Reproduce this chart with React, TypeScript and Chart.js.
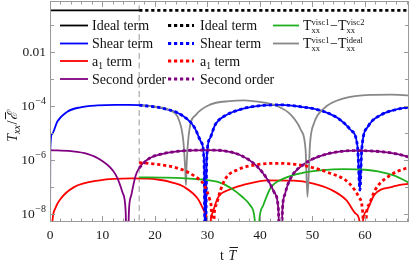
import React, { useEffect, useRef } from "react";
import { Chart, registerables } from "chart.js";

Chart.register(...registerables);

const X_MIN = 0;
const X_MAX = 68.4;
const Y_MIN = 5e-9;
const Y_MAX = 0.74;
const SWITCH_T = 17;

const xTickLabels = [0, 10, 20, 30, 40, 50, 60];
const yTickExponents = [-8, -7, -6, -5, -4, -3, -2, -1];
const yLabelExponents = [-8, -6, -4, -2];

// Ideal term (solid up to the switch, dotted after)
const idealT = [0, 17];
const idealV = [0.3333, 0.3333];
const idealDotT = [17, 68.4];
const idealDotV = [0.3333, 0.3333];

// Shear term
const shearT = [0, 0.05, 0.4, 1.4, 3.3, 5.8, 9.0, 12.5, 15.0, 17.0, 21.6, 25.0, 27.5, 28.8, 29.35, 29.6, 29.85, 30.5, 31.5, 33.7, 37.0, 40.1, 44.0, 47.8, 51.6, 54.9, 57.3, 58.6, 59.05, 59.4, 60.6, 63.1, 65.6, 68.4];
const shearV = [1e-10, 2.3e-6, 9e-6, 2.6e-5, 6.0e-5, 8.7e-5, 1.02e-4, 1.07e-4, 1.07e-4, 1.05e-4, 7.9e-5, 4.6e-5, 1.6e-5, 4.5e-6, 1.0e-6, 1e-10, 1.0e-6, 6.3e-6, 2.0e-5, 4.6e-5, 7.9e-5, 1.0e-4, 1.07e-4, 9.1e-5, 6.6e-5, 3.4e-5, 1.26e-5, 3.0e-6, 7.6e-8, 2.5e-6, 1.7e-5, 4.6e-5, 6.9e-5, 8.9e-5];

// a1 term (solid)
const a1T = [0, 0.5, 1.0, 2.0, 4.5, 9.5, 15.5, 20.5, 23.5, 25.5, 28.2, 29.5, 30.0, 30.3, 30.6, 31.0, 32.0, 34.0, 37.0, 41.5, 46.5, 50.0, 53.5, 56.5, 58.3, 59.0, 59.3, 59.6, 60.3, 61.8, 65.2, 68.4];
const a1V = [1e-10, 6.31e-9, 1.58e-8, 3.55e-8, 9.55e-8, 1.74e-7, 2.04e-7, 1.86e-7, 1.41e-7, 1.0e-7, 3.55e-8, 1.12e-8, 5.01e-9, 1e-10, 5.01e-9, 1.12e-8, 3.98e-8, 7.59e-8, 1.2e-7, 1.74e-7, 1.7e-7, 1.35e-7, 7.94e-8, 3.16e-8, 1.0e-8, 5.01e-9, 1e-10, 5.01e-9, 1.26e-8, 5.01e-8, 1.0e-7, 1.32e-7];

// a1 term (dotted)
const a1DotT = [17, 20.5, 24.6, 27.5, 29.4, 30.4, 30.8, 31.0, 31.3, 31.7, 32.5, 33.5, 36.0, 39.5, 43.6, 48.7, 53.1, 56.9, 58.9, 59.6, 59.9, 60.3, 60.8, 62.0, 64.6, 67.8, 68.4];
const a1DotV = [7.76e-7, 6.76e-7, 4.68e-7, 2.51e-7, 1.12e-7, 3.55e-8, 1.0e-8, 1e-10, 1.0e-8, 2.24e-8, 7.59e-8, 2.09e-7, 4.47e-7, 6.61e-7, 7.41e-7, 5.89e-7, 3.31e-7, 1.41e-7, 3.98e-8, 1.0e-8, 1e-10, 1.0e-8, 2.24e-8, 7.94e-8, 2.51e-7, 4.79e-7, 5.01e-7];

// Second order
const secondT = [0, 4, 7.1, 9.6, 12.5, 13.8, 14.4, 14.72, 15.05, 15.5, 16.3, 17.0, 18.9, 21.7, 26, 30, 33.5, 36.5, 39.5, 41.5, 42.7, 43.5, 43.9, 44.3, 44.8, 45.8, 48.5, 52.5, 58, 63, 66, 68.4];
const secondV = [2.29e-6, 2.09e-6, 1.66e-6, 1.0e-6, 2.82e-7, 6.31e-8, 1.41e-8, 1e-10, 1.41e-8, 5.01e-8, 2.51e-7, 5.01e-7, 1.12e-6, 1.7e-6, 2.19e-6, 2.29e-6, 2.09e-6, 1.41e-6, 5.62e-7, 1.78e-7, 6.31e-8, 1.58e-8, 1e-10, 1.58e-8, 5.62e-8, 2.0e-7, 7.08e-7, 1.58e-6, 2.19e-6, 2.0e-6, 1.66e-6, 1.26e-6];

// T_xx^visc1 - T_xx^visc2
const viscDiffT = [17, 22, 26, 29, 32, 34.5, 36.5, 38.2, 39.0, 39.45, 39.9, 40.6, 42.0, 44.5, 48.8, 52, 56, 60, 62.5, 65.5, 67.5, 68.4];
const viscDiffV = [2.24e-7, 2.19e-7, 2.04e-7, 1.86e-7, 1.51e-7, 8.91e-8, 4.47e-8, 2.0e-8, 6.31e-9, 1e-10, 6.31e-9, 2.0e-8, 8.91e-8, 2.0e-7, 3.47e-7, 4.17e-7, 4.47e-7, 4.27e-7, 3.72e-7, 2.63e-7, 1.74e-7, 1.41e-7];

// T_xx^visc1 - T_xx^ideal
const idealDiffT = [17, 20, 22.7, 24.6, 25.4, 25.75, 25.9, 26.05, 26.6, 27.8, 30.4, 34.2, 37, 40, 42.7, 45.9, 47.8, 48.7, 49.05, 49.55, 50.3, 52.2, 56, 61.1, 65, 68.4];
const idealDiffV = [1.05e-4, 9.12e-5, 6.92e-5, 2.82e-5, 5.01e-6, 5.01e-7, 1.15e-7, 7.94e-7, 1.45e-5, 4.57e-5, 1.07e-4, 1.48e-4, 1.58e-4, 1.38e-4, 1.07e-4, 4.57e-5, 1.26e-5, 2.29e-6, 4.27e-8, 4.07e-6, 2.24e-5, 7.94e-5, 1.86e-4, 2.51e-4, 2.57e-4, 2.4e-4];

const switchLineT = [17, 17];
const switchLineV = [1e-10, 1];

const FONT = "'Liberation Serif', 'Times New Roman', serif";
const C_BLACK = "#000000";
const C_BLUE = "#0000ff";
const C_RED = "#ff0000";
const C_PURPLE = "#800080";
const C_GREEN = "#1fb01f";
const C_GRAY = "#888888";
const C_FRAME = "#9a9a9a";
const SOLID_W = 1.8;
const DOT_W = 2.8;
const DOT_DASH = [3.2, 2.8];

function zip(ts: number[], vs: number[], from = -Infinity) {
  const out: { x: number; y: number }[] = [];
  for (let i = 0; i < ts.length; i++) if (ts[i] >= from) out.push({ x: ts[i], y: vs[i] });
  return out;
}

function line(ctx: CanvasRenderingContext2D, x1: number, y1: number, x2: number, y2: number) {
  ctx.beginPath();
  ctx.moveTo(x1, y1);
  ctx.lineTo(x2, y2);
  ctx.stroke();
}

// Draws "T" with stacked sub "xx" and sup text; returns new x
function drawTxx(ctx: CanvasRenderingContext2D, x: number, base: number, sup: string) {
  ctx.font = `14px ${FONT}`;
  ctx.fillText("T", x, base);
  x += ctx.measureText("T").width - 0.5;
  ctx.font = `8.5px ${FONT}`;
  ctx.fillText(sup, x + 0.5, base - 5.5);
  const wSup = ctx.measureText(sup).width;
  ctx.fillText("xx", x + 0.5, base + 2.5);
  const wSub = ctx.measureText("xx").width;
  return x + Math.max(wSup, wSub) + 1;
}

const overlayPlugin = {
  id: "overlay",
  afterDraw(chart: any) {
    const { ctx, chartArea: a, scales } = chart;
    const xs = scales.x;
    const ys = scales.y;
    ctx.save();

    // frame
    ctx.strokeStyle = C_FRAME;
    ctx.lineWidth = 1;
    ctx.setLineDash([]);
    ctx.strokeRect(a.left + 0.5, a.top + 0.5, a.right - a.left - 1, a.bottom - a.top - 1);

    // x ticks (inward, bottom and top)
    for (let v = 0; v <= X_MAX; v += 2) {
      const px = Math.round(xs.getPixelForValue(v)) + 0.5;
      const len = v % 10 === 0 ? 6 : 3.5;
      line(ctx, px, a.bottom, px, a.bottom - len);
      line(ctx, px, a.top, px, a.top + len);
    }
    // y ticks (inward, left and right)
    for (const e of yTickExponents) {
      const py = Math.round(ys.getPixelForValue(Math.pow(10, e))) + 0.5;
      const len = e % 2 === 0 ? 5 : 4;
      line(ctx, a.left, py, a.left + len, py);
      line(ctx, a.right, py, a.right - len, py);
    }

    // x tick labels
    ctx.fillStyle = "#1a1a1a";
    ctx.font = `13.5px ${FONT}`;
    ctx.textAlign = "center";
    ctx.textBaseline = "alphabetic";
    for (const v of xTickLabels) {
      ctx.fillText(String(v), xs.getPixelForValue(v), 238.5);
    }

    // y tick labels
    ctx.textAlign = "left";
    for (const e of yLabelExponents) {
      const py = ys.getPixelForValue(Math.pow(10, e));
      const right = 46;
      if (e === -2) {
        ctx.font = `13.5px ${FONT}`;
        const w = ctx.measureText("0.01").width;
        ctx.fillText("0.01", right - w, py + 4.5);
      } else {
        const sup = "\u2212" + String(-e);
        ctx.font = `10px ${FONT}`;
        const ws = ctx.measureText(sup).width;
        ctx.font = `13.5px ${FONT}`;
        const wb = ctx.measureText("10").width;
        const x0 = right - ws - wb - 0.5;
        ctx.fillText("10", x0, py + 4.5);
        ctx.font = `10px ${FONT}`;
        ctx.fillText(sup, x0 + wb + 0.5, py - 1.5);
      }
    }

    // x axis title: t T̄
    ctx.font = `14px ${FONT}`;
    ctx.fillText("t", 220, 259.5);
    ctx.font = `italic 14px ${FONT}`;
    ctx.fillText("T", 228.5, 259.5);
    ctx.strokeStyle = "#1a1a1a";
    ctx.lineWidth = 1;
    line(ctx, 229.5, 247.5, 238, 247.5);

    // y axis title: T_xx / Ē (rotated)
    ctx.save();
    ctx.translate(17, 127);
    ctx.rotate(-Math.PI / 2);
    ctx.font = `italic 14px ${FONT}`;
    const wT = ctx.measureText("T").width;
    ctx.font = `italic 10px ${FONT}`;
    const wxx = ctx.measureText("xx").width;
    ctx.font = `14px ${FONT}`;
    const wSl = ctx.measureText("/").width;
    ctx.font = `italic 14px ${FONT}`;
    const wE = ctx.measureText("\u2130").width;
    let tx = -(wT + wxx + wSl + wE + 1) / 2;
    ctx.font = `italic 14px ${FONT}`;
    ctx.fillText("T", tx, 0);
    tx += wT;
    ctx.font = `italic 10px ${FONT}`;
    ctx.fillText("xx", tx, 3);
    tx += wxx + 0.5;
    ctx.font = `14px ${FONT}`;
    ctx.fillText("/", tx, 0);
    tx += wSl + 0.5;
    ctx.font = `italic 14px ${FONT}`;
    ctx.fillText("\u2130", tx, 0);
    line(ctx, tx + 1, -11.5, tx + wE, -11.5);
    ctx.restore();

    // legend
    const rows = [25.5, 43.5, 61, 79];
    const drawSample = (x1: number, x2: number, y: number, color: string, dotted: boolean) => {
      ctx.strokeStyle = color;
      ctx.lineWidth = dotted ? DOT_W : SOLID_W;
      ctx.setLineDash(dotted ? DOT_DASH : []);
      line(ctx, x1, y, x2, y);
      ctx.setLineDash([]);
    };
    const entries = [
      { label: "Ideal term", color: C_BLACK },
      { label: "Shear term", color: C_BLUE },
      { label: "a1 term", color: C_RED },
      { label: "Second order", color: C_PURPLE },
    ];
    ctx.fillStyle = "#111";
    const drawLabel = (x: number, base: number, label: string) => {
      ctx.font = `14px ${FONT}`;
      if (label === "a1 term") {
        ctx.fillText("a", x, base);
        const wa = ctx.measureText("a").width;
        ctx.font = `9.5px ${FONT}`;
        ctx.fillText("1", x + wa, base + 3);
        const w1 = ctx.measureText("1").width;
        ctx.font = `14px ${FONT}`;
        ctx.fillText(" term", x + wa + w1, base);
      } else {
        ctx.fillText(label, x, base);
      }
    };
    entries.forEach((en, i) => {
      const y = rows[i];
      drawSample(60, 88, y, en.color, false);
      drawLabel(92, y + 4.5, en.label);
      drawSample(168, 194, y, en.color, true);
      drawLabel(200, y + 4.5, en.label);
    });
    // third column
    drawSample(273, 299, rows[0], C_GREEN, false);
    drawSample(273, 299, rows[1], C_GRAY, false);
    ctx.fillStyle = "#111";
    for (let r = 0; r < 2; r++) {
      const base = rows[r] + 4.5;
      let x = drawTxx(ctx, 303, base, "visc1");
      ctx.font = `14px ${FONT}`;
      ctx.fillText("\u2212", x, base);
      x += ctx.measureText("\u2212").width;
      drawTxx(ctx, x, base, r === 0 ? "visc2" : "ideal");
    }

    ctx.restore();
  },
};

export default function App() {
  const ref = useRef<HTMLCanvasElement | null>(null);
  useEffect(() => {
    if (!ref.current) return;
    const solid = (data: any, color: string, order: number) => ({
      data,
      borderColor: color,
      backgroundColor: color,
      borderWidth: SOLID_W,
      pointRadius: 0,
      fill: false,
      cubicInterpolationMode: "monotone" as const,
      order,
    });
    const dotted = (data: any, color: string, order: number) => ({
      ...solid(data, color, order),
      borderWidth: DOT_W,
      borderDash: DOT_DASH,
      borderCapStyle: "butt" as const,
    });
    const chart = new Chart(ref.current, {
      type: "line",
      data: {
        datasets: [
          {
            data: zip(switchLineT, switchLineV),
            borderColor: "#b0b0b0",
            borderWidth: 1.3,
            borderDash: [6, 3.5],
            pointRadius: 0,
            tension: 0,
            order: 20,
          },
          solid(zip(idealT, idealV), C_BLACK, 9),
          solid(zip(shearT, shearV), C_BLUE, 8),
          solid(zip(a1T, a1V), C_RED, 7),
          solid(zip(secondT, secondV), C_PURPLE, 6),
          solid(zip(viscDiffT, viscDiffV), C_GREEN, 5),
          solid(zip(idealDiffT, idealDiffV), C_GRAY, 5.5),
          dotted(zip(idealDotT, idealDotV), C_BLACK, 4),
          dotted(zip(shearT, shearV, SWITCH_T), C_BLUE, 3),
          dotted(zip(a1DotT, a1DotV), C_RED, 2),
          dotted(zip(secondT, secondV, SWITCH_T), C_PURPLE, 1),
        ],
      },
      options: {
        animation: false,
        responsive: false,
        devicePixelRatio: 1,
        layout: { padding: { left: 0, right: 2, top: 1, bottom: 0 } },
        plugins: { legend: { display: false }, tooltip: { enabled: false } },
        elements: { point: { radius: 0 } },
        scales: {
          x: {
            type: "linear",
            min: X_MIN,
            max: X_MAX,
            grid: { display: false },
            border: { display: false },
            ticks: { display: false },
            afterFit: (s: any) => {
              s.height = 41;
            },
          },
          y: {
            type: "logarithmic",
            min: Y_MIN,
            max: Y_MAX,
            grid: { display: false },
            border: { display: false },
            ticks: { display: false },
            afterFit: (s: any) => {
              s.width = 50;
            },
          },
        },
      },
      plugins: [overlayPlugin],
    });
    return () => chart.destroy();
  }, []);
  return (
    <div style={{ position: "fixed", left: 0, top: 0, width: 411, height: 263, background: "#fff" }}>
      <canvas ref={ref} width={411} height={263} style={{ display: "block", width: 411, height: 263 }} />
    </div>
  );
}
